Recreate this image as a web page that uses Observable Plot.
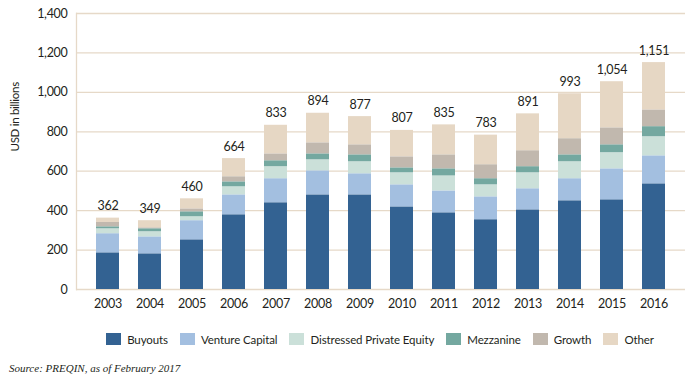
<!DOCTYPE html>
<html>
<head>
<meta charset="utf-8">
<script src="https://cdn.jsdelivr.net/npm/d3@7"></script>
<script src="https://cdn.jsdelivr.net/npm/@observablehq/plot@0.6"></script>
<style>
  body { margin: 0; background: #fff; font-family: Lato, sans-serif; color: #231f20; }
  #chart { width: 692px; height: 376px; position: relative; }
  #legend { display: flex; justify-content: center; align-items: center; height: 14px; margin-top: 10px; padding-left: 68px; font-size: 11.5px; letter-spacing: -0.1px; }
  .item { display: flex; align-items: center; margin: 0 6px; }
  .sw { width: 15px; height: 12px; margin-right: 6px; }
  #source { font-family: "Liberation Serif", "DejaVu Serif", serif; font-style: italic; font-size: 11px; margin: 16px 0 0 9px; color: #231f20; }
</style>
</head>
<body>
<div id="chart"></div>
<script>
const years = ["2003","2004","2005","2006","2007","2008","2009","2010","2011","2012","2013","2014","2015","2016"];
const seriesNames = ["Buyouts","Venture Capital","Distressed Private Equity","Mezzanine","Growth","Other"];
const colors = ["#336292","#a3bfe0","#cbe0d9","#74a8a0","#c1b8ae","#e6d7c4"];
const buyouts    = [186,181,252,379,440,480,480,419,389,354,404,450,455,536];
const venture    = [ 97, 86, 97,101,122,122,107,112,111,116,107,112,157,142];
const distressed = [ 25, 26, 20, 41, 61, 56, 61, 61, 76, 61, 81, 86, 82, 97];
const mezzanine  = [ 10, 15, 25, 25, 30, 30, 35, 25, 36, 31, 31, 35, 40, 51];
const growth     = [ 22,  5, 15, 26, 35, 56, 51, 56, 71, 71, 81, 82, 86, 85];
const totals     = [362,349,460,664,833,894,877,807,835,783,891,993,1054,1151];
const yTicks = [0,200,400,600,800,1000,1200,1400];
const yLabel = "USD in billions";

const known = [buyouts, venture, distressed, mezzanine, growth];
const rows = [];
years.forEach((yr, i) => {
  let sum = 0;
  known.forEach((arr, k) => { rows.push({year: yr, series: seriesNames[k], value: arr[i]}); sum += arr[i]; });
  rows.push({year: yr, series: "Other", value: totals[i] - sum});
});
const totalRows = years.map((yr, i) => ({year: yr, total: totals[i]}));
const fmt = d3.format(",");

const grid = "#e6d9c8";
const chart = Plot.plot({
  width: 692,
  height: 322,
  marginLeft: 76,
  marginRight: 7,
  marginTop: 13,
  marginBottom: 33,
  style: {fontFamily: "Lato, sans-serif", fontSize: "12px", color: "#231f20", background: "#fff", letterSpacing: "-0.3px"},
  x: {domain: years, padding: 0.45, label: null},
  y: {domain: [0, 1400], label: null},
  color: {domain: seriesNames, range: colors},
  marks: [
    Plot.ruleY(yTicks, {stroke: grid, strokeWidth: 1.3}),
    Plot.frame({anchor: "left", stroke: grid, strokeWidth: 1.3}),
    Plot.barY(rows, {x: "year", y: "value", fill: "series", order: seriesNames}),
    Plot.text(totalRows, {x: "year", y: "total", text: d => fmt(d.total), dy: -12, fontSize: 12.5, fill: "#231f20"}),
    Plot.axisY({ticks: yTicks, tickFormat: d => fmt(d), tickSize: 0, tickPadding: 9, fontSize: 12.5, label: null}),
    Plot.text([yLabel], {frameAnchor: "left", rotate: -90, dx: -61, fontSize: 11.5, fill: "#231f20"}),
    Plot.axisX({tickSize: 0, tickPadding: 10, fontSize: 12.5, label: null})
  ]
});
document.getElementById("chart").appendChild(chart);

const legend = document.createElement("div");
legend.id = "legend";
seriesNames.forEach((s, i) => {
  const it = document.createElement("div");
  it.className = "item";
  const sw = document.createElement("span");
  sw.className = "sw";
  sw.style.background = colors[i];
  const t = document.createElement("span");
  t.textContent = s;
  it.appendChild(sw); it.appendChild(t);
  legend.appendChild(it);
});
document.getElementById("chart").appendChild(legend);
const src = document.createElement("div");
src.id = "source";
src.textContent = "Source: PREQIN, as of February 2017";
document.getElementById("chart").appendChild(src);
</script>
</body>
</html>
